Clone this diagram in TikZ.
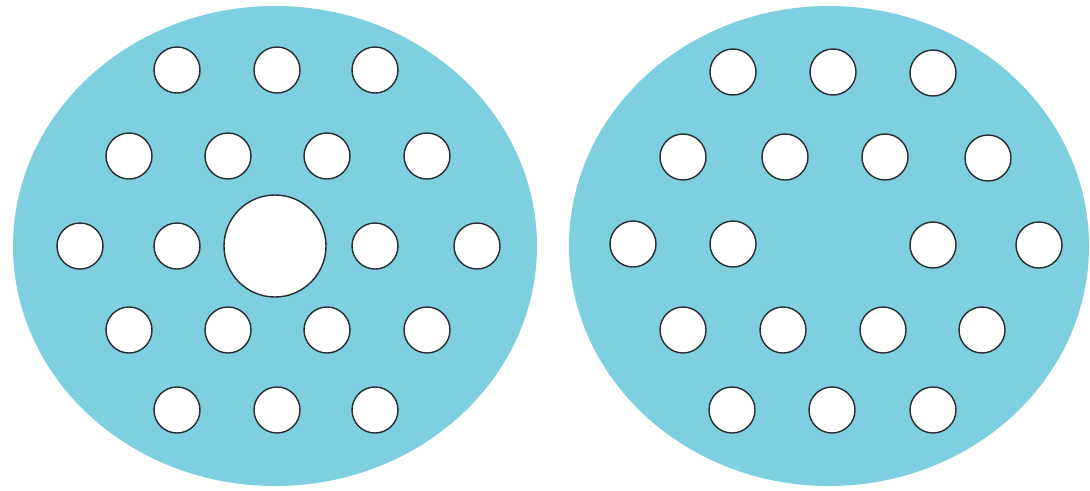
\documentclass[tikz,border=0pt]{standalone}
\usepackage{tikz}
\definecolor{discblue}{RGB}{126,207,224}
\definecolor{holeline}{RGB}{40,45,50}

\begin{document}
\begin{tikzpicture}[x=0.03cm, y=-0.03cm]
  \tikzset{
    disc/.style={fill=discblue},
    hole/.style={fill=white, draw=holeline, line width=1.2pt}
  }
  \useasboundingbox (0,0) rectangle (1090,490);

  % left disc
  \fill[disc] (275,246) ellipse (262 and 240);
  \foreach \x/\y in {177/70, 277/70, 375/70,
                     129/156, 228/156, 327/156, 427/156,
                     80/246, 177/246, 375/246, 477/246,
                     129/330, 228/330, 327/330, 427/330,
                     177/410, 277/410, 375/410}{
    \draw[hole] (\x,\y) circle (23);
  }
  % centre hole
  \draw[hole] (275,246) circle (51);

  % right disc
  \fill[disc] (829,246) ellipse (260 and 240);
  \foreach \x/\y in {733/72, 833/72, 933/73,
                     683/157, 785/157, 885/157, 988/158,
                     633/244, 733/244, 933/245, 1039/245,
                     683/330, 783/330, 883/330, 982/330,
                     732/410, 832/410, 933/410}{
    \draw[hole] (\x,\y) circle (23);
  }
\end{tikzpicture}
\end{document}
